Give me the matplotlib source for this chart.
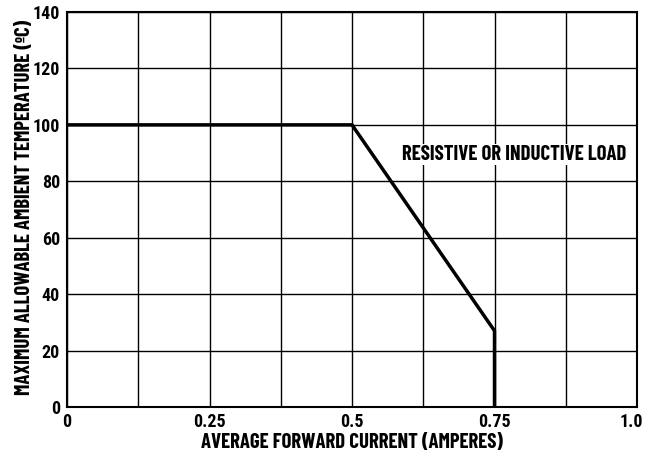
import matplotlib
matplotlib.use("Agg")
import matplotlib.pyplot as plt
import matplotlib.transforms as mtransforms
from matplotlib import font_manager as fm
from matplotlib.ticker import MultipleLocator

# Data
current = [0.0, 0.5, 0.75, 0.75]
temperature = [100, 100, 27, 0]
x_ticks = [0, 0.25, 0.5, 0.75, 1.0]
x_tick_labels = ["0", "0.25", "0.5", "0.75", "1.0"]
y_ticks = [0, 20, 40, 60, 80, 100, 120, 140]
annotation = "RESISTIVE OR INDUCTIVE LOAD"
x_label = "AVERAGE FORWARD CURRENT (AMPERES)"
y_label = "MAXIMUM ALLOWABLE AMBIENT TEMPERATURE (ºC)"

installed = {f.name for f in fm.fontManager.ttflist}
family = 'DejaVu Sans'
for cand in ['Barlow Condensed', 'Fira Sans Extra Condensed', 'Roboto Condensed',
             'Asap Condensed']:
    if cand in installed:
        family = cand
        break
tick_family = 'Roboto Condensed' if 'Roboto Condensed' in installed else family
plt.rcParams['font.family'] = [family, 'DejaVu Sans']
plt.rcParams['font.weight'] = 'bold'

W, H = 646, 455
fig = plt.figure(figsize=(W / 100, H / 100), dpi=100)
L, R, T, B = 67, 637, 12, 407
ax = fig.add_axes([L / W, 1 - B / H, (R - L) / W, (B - T) / H])

ax.set_xlim(0, 1.0)
ax.set_ylim(0, 140)
ax.xaxis.set_minor_locator(MultipleLocator(0.125))
ax.set_xticks(x_ticks)
ax.set_xticklabels(x_tick_labels)
ax.set_yticks(y_ticks)
ax.grid(True, which='both', color='black', linewidth=1.0)
ax.tick_params(which='both', length=0, labelsize=13)
ax.tick_params(axis='x', pad=4)
ax.tick_params(axis='y', pad=5)
for lab in ax.get_xticklabels() + ax.get_yticklabels():
    lab.set_family([tick_family, 'DejaVu Sans'])
last = ax.get_xticklabels()[-1]
last.set_transform(last.get_transform() + mtransforms.ScaledTranslation(-6 / 100, 0, fig.dpi_scale_trans))
for s in ax.spines.values():
    s.set_linewidth(1.5)
    s.set_color('black')

ax.plot(current, temperature, color='black', linewidth=2.5, solid_joinstyle='miter', zorder=5)

ann = ax.text(0.587, 89.5, annotation, fontsize=12, va='center', ha='left',
              bbox=dict(facecolor='white', edgecolor='none', pad=0.5), zorder=4)
xl = fig.text(352 / W, 1 - 443 / H, x_label, fontsize=12, ha='center', va='center')
yl = fig.text(25 / W, 1 - 207 / H, y_label, fontsize=12, ha='center', va='center', rotation=90)

# fit text sizes to the reference's text extents
fig.canvas.draw()
r = fig.canvas.get_renderer()
for t, target, dim in [(ann, 226, 'w'), (xl, 304, 'w'), (yl, 375, 'h')]:
    bb = t.get_window_extent(r)
    cur = bb.width if dim == 'w' else bb.height
    t.set_fontsize(t.get_fontsize() * target / cur)

fig.savefig("out.png", dpi=100)
